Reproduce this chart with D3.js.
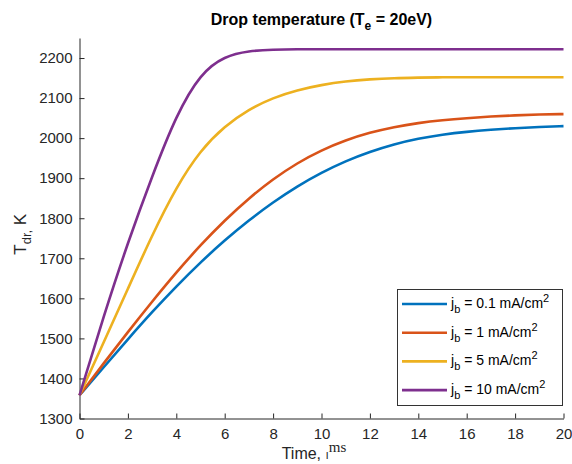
<!DOCTYPE html>
<html>
<head>
<meta charset="utf-8">
<script src="https://cdn.jsdelivr.net/npm/d3@7/dist/d3.min.js"></script>
<style>
  body { margin: 0; background: #fff; }
  svg { font-family: "Liberation Sans", Arial, sans-serif; }
</style>
</head>
<body>
<svg id="chart" width="572" height="464"></svg>
<script>
// time axis (ms), sampled once per ms
const times = d3.range(0, 21);

const seriesNames = ["0.1", "1", "5", "10"];
const seriesColors = ["#0072BD", "#D95319", "#EDB120", "#7E2F8E"];

// drop temperature, K
const temp01 = [1358, 1428, 1498, 1566, 1630, 1690, 1745, 1795, 1840, 1880, 1914,
  1943, 1966, 1985, 1999, 2009, 2016, 2021, 2025, 2028, 2030];
const temp1 = [1358, 1438, 1516, 1592, 1665, 1733, 1795, 1850, 1898, 1938, 1970,
  1995, 2014, 2028, 2038, 2045, 2050, 2054, 2057, 2059, 2060];
const temp5 = [1358, 1490, 1624, 1758, 1878, 1970, 2030, 2072, 2101, 2120, 2133,
  2142, 2147, 2150, 2151, 2152, 2152, 2152, 2152, 2152, 2152];
const temp10 = [1358, 1556, 1740, 1905, 2058, 2162, 2205, 2218, 2221, 2222, 2222,
  2222, 2222, 2222, 2222, 2222, 2222, 2222, 2222, 2222, 2222];
const allTemps = [temp01, temp1, temp5, temp10];

const xTicks = d3.range(0, 21, 2);
const yTicks = d3.range(1300, 2201, 100);

const svg = d3.select("#chart");
const plotL = 79.5, plotR = 563.5, plotT = 38, plotB = 418.5;
const axisColor = "#262626";

const x = d3.scaleLinear().domain([0, 20]).range([plotL, plotR]);
const y = d3.scaleLinear().domain([1300, 2250]).range([plotB, plotT]);

// axes (MATLAB style, box off, ticks inward)
const xAxis = svg.append("g")
  .attr("transform", `translate(0,${plotB})`)
  .call(d3.axisBottom(x).tickValues(xTicks).tickFormat(d3.format("d"))
    .tickSizeInner(-5).tickSizeOuter(0).tickPadding(10));
const yAxis = svg.append("g")
  .attr("transform", `translate(${plotL},0)`)
  .call(d3.axisLeft(y).tickValues(yTicks).tickFormat(d3.format("d"))
    .tickSizeInner(-5).tickSizeOuter(0).tickPadding(7));

[xAxis, yAxis].forEach((g) => {
  g.select(".domain").attr("stroke", axisColor);
  g.selectAll(".tick line").attr("stroke", axisColor);
  g.selectAll(".tick text")
    .attr("fill", axisColor)
    .style("font-size", "15px")
    .style("font-family", "'Liberation Sans', Arial, sans-serif");
});

// curves (smoothed so the knees round off like the solver output)
const line = d3.line()
  .x((d, i) => x(times[i]))
  .y((d) => y(d))
  .curve(d3.curveBasis);

svg.append("g")
  .selectAll("path")
  .data(allTemps)
  .join("path")
  .attr("d", line)
  .attr("fill", "none")
  .attr("stroke", (d, i) => seriesColors[i])
  .attr("stroke-width", 2.6);

// title
const title = svg.append("text")
  .attr("x", (plotL + plotR) / 2)
  .attr("y", 25)
  .attr("text-anchor", "middle")
  .attr("font-weight", "bold")
  .attr("font-size", 16)
  .attr("fill", "#000");
title.append("tspan").text("Drop temperature (T");
title.append("tspan").attr("font-size", 12).attr("dy", 5).text("e");
title.append("tspan").attr("dy", -5).text(" = 20eV)");

// x label
const xl = svg.append("text")
  .attr("x", 314)
  .attr("y", 459)
  .attr("text-anchor", "middle")
  .attr("font-size", 16)
  .attr("fill", axisColor);
xl.append("tspan").text("Time, ");
xl.append("tspan").attr("font-size", 12).text("ı");
xl.append("tspan")
  .attr("font-family", "'Liberation Serif', 'Times New Roman', serif")
  .attr("font-size", 15)
  .attr("dy", -7)
  .text("ms");

// y label
const yl = svg.append("text")
  .attr("transform", `translate(26,${(plotT + plotB) / 2 + 6}) rotate(-90)`)
  .attr("text-anchor", "middle")
  .attr("font-size", 17)
  .attr("fill", axisColor);
yl.append("tspan").text("T");
yl.append("tspan").attr("font-size", 13).attr("dy", 5).text("dr,");
yl.append("tspan").attr("dy", -5).text(" K");

// legend
const legend = svg.append("g");
legend.append("rect")
  .attr("x", 397.5).attr("y", 289.5)
  .attr("width", 165).attr("height", 116)
  .attr("fill", "#fff")
  .attr("stroke", "#333").attr("stroke-width", 1);

const rowY = (i) => 304 + i * 28.7;
seriesNames.forEach((name, i) => {
  legend.append("line")
    .attr("x1", 402).attr("x2", 447)
    .attr("y1", rowY(i)).attr("y2", rowY(i))
    .attr("stroke", seriesColors[i]).attr("stroke-width", 2.6);
  const t = legend.append("text")
    .attr("x", 451).attr("y", rowY(i) + 4)
    .attr("font-size", 14)
    .attr("fill", "#000");
  t.append("tspan").text("j");
  t.append("tspan").attr("font-size", 11).attr("dy", 5).text("b");
  t.append("tspan").attr("dy", -5).text(` = ${name} mA/cm`);
  t.append("tspan").attr("font-size", 11).attr("dy", -6).text("2");
});
</script>
</body>
</html>
